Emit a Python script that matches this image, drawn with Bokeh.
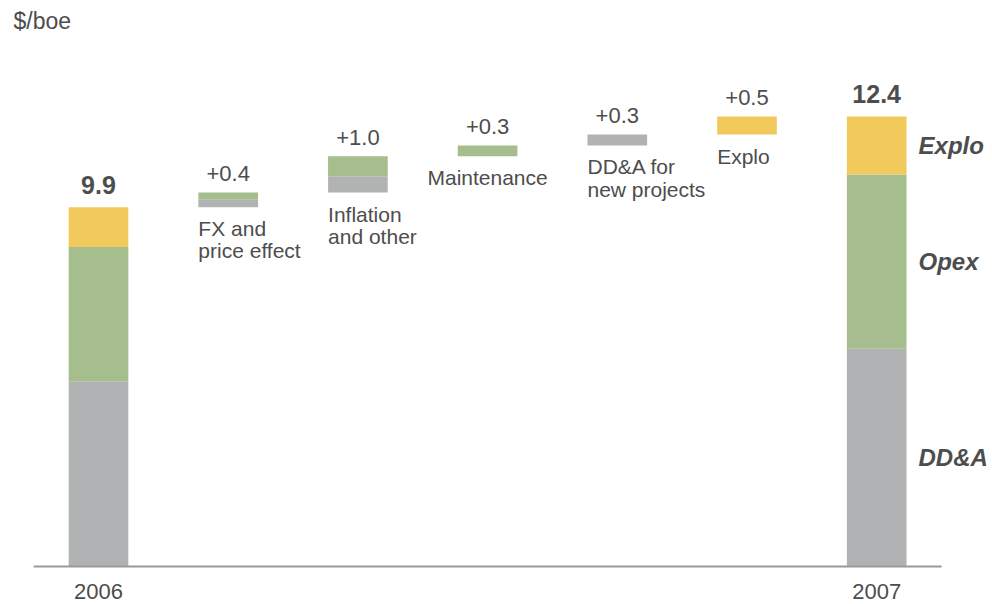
from bokeh.plotting import figure
from bokeh.models import Range1d, ColumnDataSource
from bokeh.core.properties import value
from bokeh.embed import file_html
from bokeh.resources import INLINE

# ---- data ----
categories = ["2006", "FX and\nprice effect", "Inflation\nand other", "Maintenance",
              "DD&A for\nnew projects", "Explo", "2007"]
kinds = ["total", "step", "step", "step", "step", "step", "total"]
dda = [5.1, 0.2, 0.45, 0.0, 0.3, 0.0, 6.0]
opex = [3.7, 0.2, 0.55, 0.3, 0.0, 0.0, 4.8]
explo = [1.1, 0.0, 0.0, 0.0, 0.0, 0.5, 1.6]
segment_names = ["DD&A", "Opex", "Explo"]
unit_label = "$/boe"

# ---- styles ----
C_DDA = "#B1B2B4"
C_OPEX = "#A6BD8E"
C_EXPLO = "#F2CA5B"
TXT = "#4D4D4D"
FONT = value("Liberation Sans")
label_align = ["left", "left", "left", "center", "left", "left", "left"]

n = len(categories)
xs = list(range(n))

# waterfall bases
bases = []
running = 0.0
for i in range(n):
    if kinds[i] == "total":
        bases.append(0.0)
        running = dda[i] + opex[i] + explo[i]
    else:
        bases.append(running)
        running += dda[i] + opex[i] + explo[i]

d_bot = bases
d_top = [b + d for b, d in zip(bases, dda)]
o_top = [t + o for t, o in zip(d_top, opex)]
e_top = [t + e for t, e in zip(o_top, explo)]

value_labels = []
for i in range(n):
    tot = dda[i] + opex[i] + explo[i]
    value_labels.append(f"{tot:.1f}" if kinds[i] == "total" else f"+{tot:.1f}")

W, H = 992, 604
PX_PER_UNIT = 36.3
STEP_PX = 129.7
X0_PX = 98
BASE_PX = 566

p = figure(width=W, height=H, output_backend="svg", toolbar_location=None,
           x_range=Range1d(-X0_PX / STEP_PX, (W - X0_PX) / STEP_PX),
           y_range=Range1d(-(H - BASE_PX) / PX_PER_UNIT, BASE_PX / PX_PER_UNIT),
           min_border=0, outline_line_color=None, background_fill_color="white")
p.axis.visible = False
p.grid.visible = False

BW = 0.46
src = ColumnDataSource(dict(x=xs, d_bot=d_bot, d_top=d_top, o_top=o_top, e_top=e_top))
p.vbar(x="x", bottom="d_bot", top="d_top", width=BW, color=C_DDA, source=src, line_color=None)
p.vbar(x="x", bottom="d_top", top="o_top", width=BW, color=C_OPEX, source=src, line_color=None)
p.vbar(x="x", bottom="o_top", top="e_top", width=BW, color=C_EXPLO, source=src, line_color=None)

# baseline
p.segment(x0=[-0.5], y0=[0], x1=[n - 0.5], y1=[0], line_color="#999999", line_width=2)

# value labels
tot_idx = [i for i in range(n) if kinds[i] == "total"]
step_idx = [i for i in range(n) if kinds[i] == "step"]
p.text(x=[xs[i] for i in tot_idx], y=[e_top[i] for i in tot_idx],
       text=[value_labels[i] for i in tot_idx], text_align="center", text_baseline="alphabetic",
       y_offset=-22, text_font=FONT, text_font_size="25px", text_font_style="bold", text_color=TXT)
p.text(x=[xs[i] for i in step_idx], y=[e_top[i] for i in step_idx],
       text=[value_labels[i] for i in step_idx], text_align="center", text_baseline="alphabetic",
       y_offset=-19, text_font=FONT, text_font_size="22px", text_color=TXT)

# category labels under step bars
for i in step_idx:
    xpos = xs[i] - BW / 2 if label_align[i] == "left" else xs[i]
    p.text(x=[xpos], y=[d_bot[i]], text=[categories[i]], text_align=label_align[i],
           text_baseline="top", y_offset=10, text_font=FONT, text_font_size="21px",
           text_line_height=0.97, text_color=TXT)

# year labels
p.text(x=[xs[i] for i in tot_idx], y=[0] * len(tot_idx), text=[categories[i] for i in tot_idx],
       text_align="center", text_baseline="top", y_offset=17, text_font=FONT,
       text_font_size="22px", text_color=TXT)

# segment labels right of last bar
last = n - 1
mids = [(d_bot[last] + d_top[last]) / 2, (d_top[last] + o_top[last]) / 2,
        (o_top[last] + e_top[last]) / 2]
p.text(x=[xs[last] + BW / 2] * 3, y=mids, text=segment_names, text_align="left",
       text_baseline="middle", x_offset=12, text_font=FONT, text_font_size="24px",
       text_font_style="bold italic", text_color=TXT)

# unit label
p.text(x=[-X0_PX / STEP_PX], y=[BASE_PX / PX_PER_UNIT], text=[unit_label], text_align="left",
       text_baseline="middle", x_offset=13, y_offset=20, text_font=FONT,
       text_font_size="23px", text_color=TXT)

open("out.html", "w").write(file_html(p, INLINE))
